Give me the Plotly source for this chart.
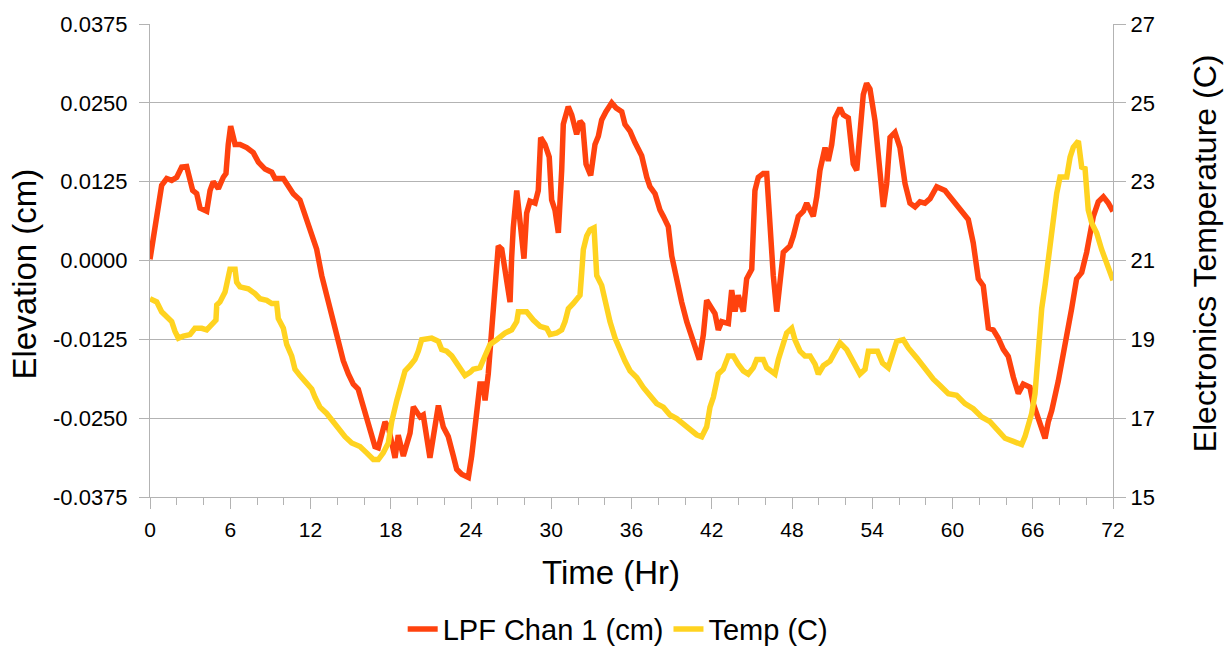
import plotly.graph_objects as go

# LPF Chan 1 (cm) -- elevation vs time
lpf_hours = [0.0, 0.37, 0.87, 1.25, 1.62, 2.0, 2.37, 2.74, 2.99, 3.19, 3.49, 3.74, 4.24, 4.49, 4.73, 5.11, 5.48, 5.68, 5.85, 6.03,
             6.36, 6.73, 7.23, 7.72, 8.10, 8.60, 9.10, 9.35, 9.97, 10.34, 10.71, 11.21, 11.72, 12.09, 12.46, 12.84, 13.46, 13.96, 14.45, 14.83,
             15.20, 15.57, 15.95, 16.45, 16.82, 17.07, 17.57, 17.82, 18.32, 18.56, 18.94, 19.44, 19.69, 20.19, 20.43, 20.93, 21.18, 21.56, 21.93, 22.30,
             22.68, 22.93, 23.30, 23.80, 24.05, 24.30, 24.55, 24.67, 24.92, 25.05, 25.29, 25.67, 25.92, 26.04, 26.30, 26.54, 26.77, 26.92, 27.04, 27.16,
             27.42, 27.66, 27.96, 28.16, 28.41, 28.79, 29.03, 29.21, 29.53, 29.85, 30.03, 30.28, 30.53, 30.78, 30.90, 31.27, 31.53, 31.90, 32.15, 32.35,
             32.60, 32.95, 33.27, 33.52, 33.77, 34.09, 34.52, 34.84, 35.27, 35.51, 35.89, 36.26, 36.51, 36.76, 37.14, 37.38, 37.76, 38.13, 38.38, 38.75,
             39.01, 39.25, 39.75, 40.13, 40.50, 41.07, 41.37, 41.62, 42.00, 42.24, 42.49, 42.74, 43.24, 43.49, 43.74, 43.98, 44.36, 44.61, 44.99, 45.23,
             45.48, 45.85, 46.11, 46.36, 46.60, 46.86, 47.10, 47.35, 47.85, 48.10, 48.47, 48.85, 49.10, 49.59, 49.85, 50.09, 50.47, 50.71, 50.97, 51.21,
             51.59, 51.84, 52.21, 52.58, 52.84, 53.08, 53.33, 53.58, 53.83, 54.21, 54.58, 54.83, 55.08, 55.33, 55.70, 56.07, 56.45, 56.82, 57.20, 57.57,
             57.94, 58.32, 58.82, 59.44, 59.81, 60.31, 60.81, 61.18, 61.55, 61.93, 62.30, 62.68, 63.05, 63.42, 63.80, 64.17, 64.55, 64.92, 65.29, 65.79,
             66.04, 66.41, 66.67, 66.92, 67.16, 67.42, 67.91, 68.41, 68.91, 69.28, 69.66, 70.03, 70.53, 70.90, 71.28, 71.65, 72.0]
lpf_cm = [0.0002, 0.0048, 0.0119, 0.0130, 0.0127, 0.0132, 0.0148, 0.0149, 0.0127, 0.0111, 0.0106, 0.0083, 0.0078, 0.0111, 0.0125, 0.0114, 0.0132, 0.0138, 0.0184, 0.0213,
          0.0184, 0.0184, 0.0179, 0.0171, 0.0156, 0.0145, 0.0140, 0.0130, 0.0130, 0.0117, 0.0106, 0.0096, 0.0065, 0.0044, 0.0018, -0.0024, -0.0076, -0.0118, -0.0159, -0.0180,
          -0.0196, -0.0204, -0.0232, -0.0264, -0.0295, -0.0297, -0.0256, -0.0264, -0.0313, -0.0277, -0.0310, -0.0274, -0.0232, -0.0248, -0.0245, -0.0313, -0.0274, -0.0230, -0.0264, -0.0279,
          -0.0310, -0.0331, -0.0339, -0.0344, -0.0310, -0.0264, -0.0222, -0.0196, -0.0196, -0.0222, -0.0180, -0.0076, 0.0013, 0.0023, 0.0018, -0.0011, -0.0050, -0.0066, 0.0005, 0.0052,
          0.0111, 0.0067, 0.0003, 0.0075, 0.0094, 0.0091, 0.0111, 0.0195, 0.0184, 0.0164, 0.0096, 0.0080, 0.0044, 0.0143, 0.0216, 0.0244, 0.0231, 0.0200, 0.0221, 0.0216,
          0.0153, 0.0135, 0.0184, 0.0197, 0.0223, 0.0236, 0.0250, 0.0242, 0.0236, 0.0216, 0.0205, 0.0187, 0.0174, 0.0166, 0.0132, 0.0117, 0.0106, 0.0080, 0.0070, 0.0054,
          0.0007, -0.0019, -0.0066, -0.0097, -0.0123, -0.0157, -0.0118, -0.0063, -0.0076, -0.0084, -0.0110, -0.0097, -0.0100, -0.0047, -0.0081, -0.0055, -0.0081, -0.0029, -0.0014, 0.0111,
          0.0132, 0.0138, 0.0138, 0.0049, -0.0024, -0.0081, -0.0034, 0.0013, 0.0023, 0.0039, 0.0070, 0.0078, 0.0091, 0.0070, 0.0101, 0.0143, 0.0179, 0.0158, 0.0184, 0.0226,
          0.0242, 0.0231, 0.0226, 0.0153, 0.0143, 0.0195, 0.0263, 0.0281, 0.0272, 0.0221, 0.0132, 0.0085, 0.0122, 0.0195, 0.0203, 0.0179, 0.0122, 0.0091, 0.0085, 0.0093,
          0.0091, 0.0098, 0.0117, 0.0111, 0.0101, 0.0088, 0.0072, 0.0065, 0.0028, -0.0029, -0.0040, -0.0107, -0.0110, -0.0123, -0.0141, -0.0152, -0.0185, -0.0211, -0.0196, -0.0201,
          -0.0227, -0.0248, -0.0264, -0.0282, -0.0256, -0.0238, -0.0191, -0.0139, -0.0076, -0.0029, -0.0019, 0.0013, 0.0070, 0.0093, 0.0101, 0.0091, 0.0078]

# Temp (C) -- electronics temperature vs time
temp_hours = [0.0, 0.5, 0.87, 1.25, 1.62, 1.87, 2.12, 2.49, 2.99, 3.36, 3.87, 4.24, 4.61, 4.93, 4.99, 5.23, 5.61, 5.85, 5.98, 6.36,
              6.48, 6.73, 7.35, 7.85, 8.22, 8.73, 9.10, 9.47, 9.59, 9.97, 10.22, 10.59, 10.84, 11.21, 11.59, 12.09, 12.34, 12.71, 13.21, 13.70,
              14.21, 14.58, 15.08, 15.70, 16.20, 16.70, 17.07, 17.44, 17.82, 18.07, 18.45, 18.69, 19.07, 19.44, 19.81, 20.06, 20.31, 21.06, 21.56, 21.81,
              22.18, 22.56, 23.05, 23.55, 23.93, 24.17, 24.67, 25.05, 25.42, 25.92, 26.54, 27.04, 27.42, 27.54, 28.16, 28.66, 29.16, 29.66, 29.91, 30.41,
              30.78, 31.03, 31.28, 31.65, 32.15, 32.28, 32.40, 32.65, 32.90, 33.20, 33.27, 33.40, 33.77, 34.02, 34.39, 34.77, 35.14, 35.51, 35.89, 36.39,
              36.88, 37.38, 37.88, 38.38, 38.88, 39.38, 40.00, 40.50, 40.87, 41.25, 41.62, 41.87, 42.12, 42.49, 42.86, 43.24, 43.61, 43.98, 44.36, 44.73,
              45.11, 45.36, 45.85, 46.11, 46.48, 46.73, 46.98, 47.23, 47.60, 47.98, 48.22, 48.60, 48.97, 49.35, 49.72, 49.97, 50.34, 50.84, 51.21, 51.59,
              52.09, 52.58, 53.08, 53.46, 53.71, 54.39, 54.77, 55.20, 55.57, 55.83, 56.32, 56.70, 57.32, 57.94, 58.57, 59.07, 59.69, 60.31, 60.93, 61.55,
              62.18, 62.80, 63.42, 63.93, 64.55, 65.17, 65.42, 65.67, 65.92, 66.17, 66.42, 66.67, 66.92, 67.16, 67.29, 67.54, 67.79, 68.04, 68.54, 68.79,
              69.03, 69.41, 69.66, 69.91, 70.15, 70.41, 70.78, 71.15, 71.40, 71.65, 71.90, 72.0]
temp_c = [20.03, 19.95, 19.70, 19.58, 19.45, 19.20, 19.03, 19.08, 19.12, 19.28, 19.28, 19.24, 19.37, 19.49, 19.87, 19.95, 20.20, 20.53, 20.78, 20.78,
          20.45, 20.33, 20.28, 20.16, 20.03, 19.99, 19.91, 19.91, 19.53, 19.28, 18.87, 18.58, 18.24, 18.08, 17.91, 17.74, 17.53, 17.28, 17.12, 16.91,
          16.66, 16.53, 16.37, 16.28, 16.12, 15.95, 15.95, 16.12, 16.37, 16.91, 17.45, 17.78, 18.20, 18.33, 18.49, 18.70, 18.99, 19.03, 18.95, 18.74,
          18.70, 18.58, 18.33, 18.08, 18.16, 18.24, 18.28, 18.58, 18.87, 18.99, 19.16, 19.24, 19.45, 19.70, 19.70, 19.49, 19.33, 19.28, 19.12, 19.16,
          19.24, 19.45, 19.78, 19.91, 20.12, 20.70, 21.28, 21.62, 21.78, 21.83, 21.20, 20.62, 20.37, 19.95, 19.45, 19.03, 18.70, 18.45, 18.20, 18.03,
          17.78, 17.58, 17.37, 17.28, 17.08, 16.99, 16.83, 16.70, 16.58, 16.53, 16.78, 17.28, 17.53, 18.12, 18.24, 18.58, 18.58, 18.37, 18.20, 18.12,
          18.28, 18.49, 18.49, 18.28, 18.16, 18.12, 18.49, 18.74, 19.16, 19.28, 18.99, 18.70, 18.58, 18.58, 18.37, 18.12, 18.33, 18.45, 18.66, 18.91,
          18.74, 18.45, 18.12, 18.24, 18.70, 18.70, 18.40, 18.28, 18.62, 18.95, 18.99, 18.78, 18.53, 18.24, 17.99, 17.83, 17.62, 17.58, 17.37, 17.24,
          17.03, 16.91, 16.70, 16.49, 16.41, 16.33, 16.53, 16.78, 17.12, 17.62, 18.78, 19.78, 20.37, 21.03, 21.53, 22.12, 22.70, 23.12, 23.12, 23.62,
          23.87, 24.03, 23.37, 23.33, 22.28, 21.95, 21.70, 21.28, 21.03, 20.78, 20.53, 20.50]

elev_ticks = [-0.0375, -0.025, -0.0125, 0.0, 0.0125, 0.025, 0.0375]
elev_labels = ["-0.0375", "-0.0250", "-0.0125", "0.0000", "0.0125", "0.0250", "0.0375"]
temp_ticks = [15, 17, 19, 21, 23, 25, 27]
time_ticks = [0, 6, 12, 18, 24, 30, 36, 42, 48, 54, 60, 66, 72]

RED = "#ff420e"
YELLOW = "#ffd320"
GRID = "#b3b3b3"
FONT = "Liberation Sans, Arial, sans-serif"

fig = go.Figure()
fig.add_trace(go.Scatter(x=lpf_hours, y=lpf_cm, mode="lines", name="LPF Chan 1 (cm)",
                         line=dict(color=RED, width=5.5)))
fig.add_trace(go.Scatter(x=temp_hours, y=temp_c, mode="lines", name="Temp (C)", yaxis="y2",
                         line=dict(color=YELLOW, width=5.5)))

fig.update_layout(
    width=1229, height=648,
    margin=dict(l=150, r=116, t=18, b=151),
    paper_bgcolor="white", plot_bgcolor="white",
    font=dict(family=FONT, color="black", size=21),
    showlegend=True,
    legend=dict(orientation="h", xref="container", yref="container",
                x=0.503, xanchor="center", y=0.029, yanchor="middle",
                font=dict(size=29, family=FONT), itemwidth=30, tracegroupgap=0),
    xaxis=dict(range=[0, 72], tickvals=time_ticks, showgrid=False, zeroline=False,
               showline=True, linecolor=GRID, linewidth=1,
               ticks="outside", ticklen=11, tickcolor=GRID, ticklabelstandoff=3,
               minor=dict(dtick=2, ticks="outside", ticklen=7, tickcolor=GRID, showgrid=False),
               tickfont=dict(size=21)),
    yaxis=dict(range=[-0.0375, 0.0375], tickvals=elev_ticks, ticktext=elev_labels,
               showgrid=True, gridcolor=GRID, gridwidth=1, zeroline=False,
               showline=True, linecolor=GRID, linewidth=1, ticklabelstandoff=7,
               ticks="outside", ticklen=10, tickcolor=GRID, tickfont=dict(size=22)),
    yaxis2=dict(range=[15, 27], tickvals=temp_ticks, overlaying="y", side="right",
                showgrid=False, zeroline=False, showline=True, linecolor=GRID, linewidth=1,
                ticks="outside", ticklen=12, tickcolor=GRID, tickfont=dict(size=22)),
    annotations=[
        dict(text="Time (Hr)", xref="paper", yref="paper", x=0.479, y=-0.159,
             xanchor="center", yanchor="middle", showarrow=False, font=dict(size=33)),
        dict(text="Elevation (cm)", xref="paper", yref="paper", x=-0.13, y=0.472,
             xanchor="center", yanchor="middle", textangle=-90, showarrow=False, font=dict(size=33)),
        dict(text="Electronics Temperature (C)", xref="paper", yref="paper", x=1.0955, y=0.515,
             xanchor="center", yanchor="middle", textangle=-90, showarrow=False, font=dict(size=32)),
    ],
)

fig.write_html("out.html")
